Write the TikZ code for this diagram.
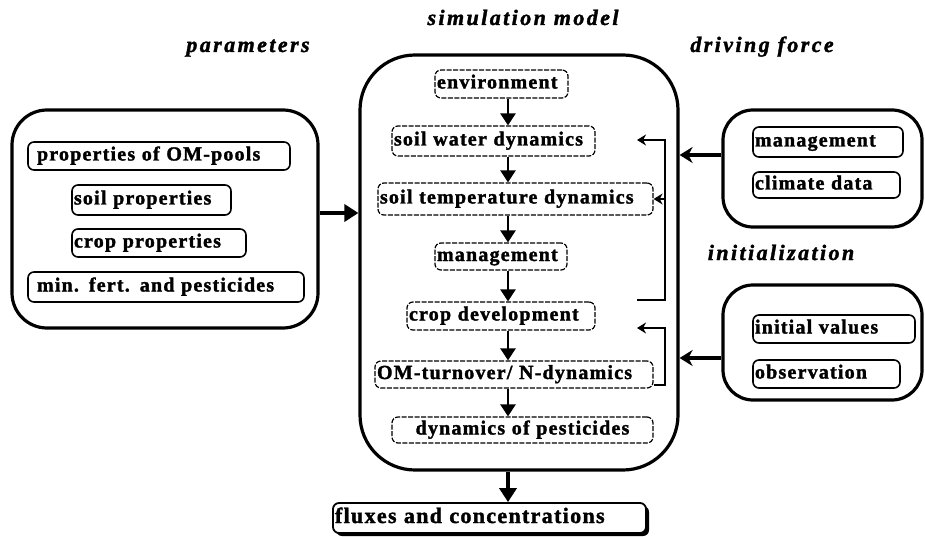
\documentclass[tikz,border=0pt]{standalone}
\usepackage{fontspec}
\setmainfont{Liberation Serif}
\newfontfamily\bxfont{Liberation Serif}[LetterSpace=6, BoldFeatures={FakeBold=1.6}]
\newfontfamily\ttlfont{Liberation Serif}[LetterSpace=11, BoldItalicFeatures={FakeBold=1.6}]
\usetikzlibrary{arrows.meta,shadows}
\begin{document}
\begin{tikzpicture}[x=1pt,y=-1pt,
  bigbox/.style={draw, line width=3.2pt, inner sep=0pt, rounded corners=#1},
  ib/.style={draw, line width=1.6pt, rounded corners=6pt, inner xsep=2pt, inner ysep=0pt,
    font=\bxfont\bfseries\fontsize{20}{22}\selectfont, align=left, text height=13pt, text depth=4pt},
  db/.style={ib, line width=1.2pt, dash pattern=on 5pt off 1.5pt},
  ttl/.style={font=\ttlfont\bfseries\itshape\fontsize{22}{26}\selectfont, anchor=base, inner sep=0pt},
  varrow/.style={line width=2.4pt, -{Triangle[width=15pt,length=12pt]}},
  bigarrow/.style={line width=3.8pt, -{Triangle[width=17pt,length=14pt]}},
  sidearrow/.style={line width=3.8pt, -{Stealth[width=16pt,length=13pt]}},
  fb/.style={line width=2pt},
  fba/.style={fb, -{Stealth[width=11pt,length=9pt]}}
]
\useasboundingbox (0,0) rectangle (925,537);

% titles
\node[ttl] (tpar) at (248,52) {parameters};
\node[ttl] (tsim) at (523,25) {simulation model};
\node[ttl] (tdrv) at (762,52) {driving force};
\node[ttl] (tini) at (781,260) {initialization};

% big boxes
\node[bigbox=35pt, minimum width=306pt, minimum height=218pt] (par) at (165,219) {};
\node[bigbox=55pt, minimum width=318pt, minimum height=415pt] (sim) at (519,262.5) {};
\node[bigbox=30pt, minimum width=199pt, minimum height=117pt] (drv) at (822.5,168.5) {};
\node[bigbox=30pt, minimum width=199pt, minimum height=115pt] (ini) at (822.5,342.5) {};

% parameter boxes
\node[ib, inner xsep=9pt, text width=244pt, minimum height=28pt] (om) at (159,156) {\mbox{properties of OM-pools}};
\node[ib, text width=155pt, minimum height=30pt] (soil) at (151.5,200) {\mbox{soil properties}};
\node[ib, text width=170pt, minimum height=28pt] (crop) at (159,243) {\mbox{crop properties}};
\node[ib, inner xsep=9pt, text width=258pt, minimum height=30pt] (fert) at (166,287) {\mbox{min. fert. and pesticides}};

% simulation boxes
\node[db, text width=129pt, minimum height=28pt] (env) at (501.5,84) {\mbox{environment}};
\node[db, text width=199pt, minimum height=30pt] (swd) at (493.5,141) {\mbox{soil water dynamics}};
\node[db, text width=271pt, minimum height=32pt] (std) at (515.5,199) {\mbox{soil temperature dynamics}};
\node[db, text width=128pt, minimum height=27pt] (mgt) at (501,256.5) {\mbox{management}};
\node[db, text width=184pt, minimum height=28pt] (cdev) at (501,316) {\mbox{crop development}};
\node[db, text width=274pt, minimum height=27pt] (omt) at (514,374.5) {\mbox{OM-turnover/ N-dynamics}};
\node[db, text width=257pt, minimum height=26pt, align=center] (pest) at (522.5,430) {\mbox{dynamics of pesticides}};

% driving force and initialization boxes
\node[ib, text width=146pt, minimum height=30pt] (mgt2) at (828,142) {\mbox{management}};
\node[ib, text width=143pt, minimum height=26pt] (clim) at (826.5,185) {\mbox{climate data}};
\node[ib, text width=158pt, minimum height=28pt] (initv) at (834,329) {\mbox{initial values}};
\node[ib, text width=143pt, minimum height=28pt] (obs) at (826.5,374) {\mbox{observation}};

% output box
\node[ib, line width=1.8pt, font=\bxfont\bfseries\fontsize{22}{24}\selectfont, text height=14pt, text depth=4pt,
  text width=309pt, minimum height=30pt, fill=white,
  drop shadow={shadow xshift=3pt, shadow yshift=-3pt, fill=black, opacity=1}] (flux) at (489.5,518) {\mbox{fluxes and concentrations}};

% vertical flow arrows
\coordinate (ax) at (508,0);
\draw[varrow] (env.south -| ax) -- (swd.north -| ax);
\draw[varrow] (swd.south -| ax) -- (std.north -| ax);
\draw[varrow] (std.south -| ax) -- (mgt.north -| ax);
\draw[varrow] (mgt.south -| ax) -- (cdev.north -| ax);
\draw[varrow] (cdev.south -| ax) -- (omt.north -| ax);
\draw[varrow] (omt.south -| ax) -- (pest.north -| ax);
\draw[bigarrow] (sim.south -| ax) -- (flux.north -| ax);

% inputs
\draw[bigarrow] (par.east |- 0,213) -- (sim.west |- 0,213);
\draw[sidearrow] (drv.west |- 0,155) -- (sim.east |- 0,155);
\draw[sidearrow] (ini.west |- 0,358) -- (sim.east |- 0,358);

% feedback loops
\coordinate (fbx) at (665,0);
\coordinate (fbl) at (637,0);
\draw[fba] (fbl |- 0,300) -- (fbx |- 0,300) -- (fbx |- 0,140) -- (fbl |- 0,140);
\draw[fba] (fbx |- std.east) -- (std.east);
\draw[fba] (omt.east |- 0,385) -- (fbx |- 0,385) -- (fbx |- 0,328) -- (fbl |- 0,328);
\end{tikzpicture}
\end{document}
